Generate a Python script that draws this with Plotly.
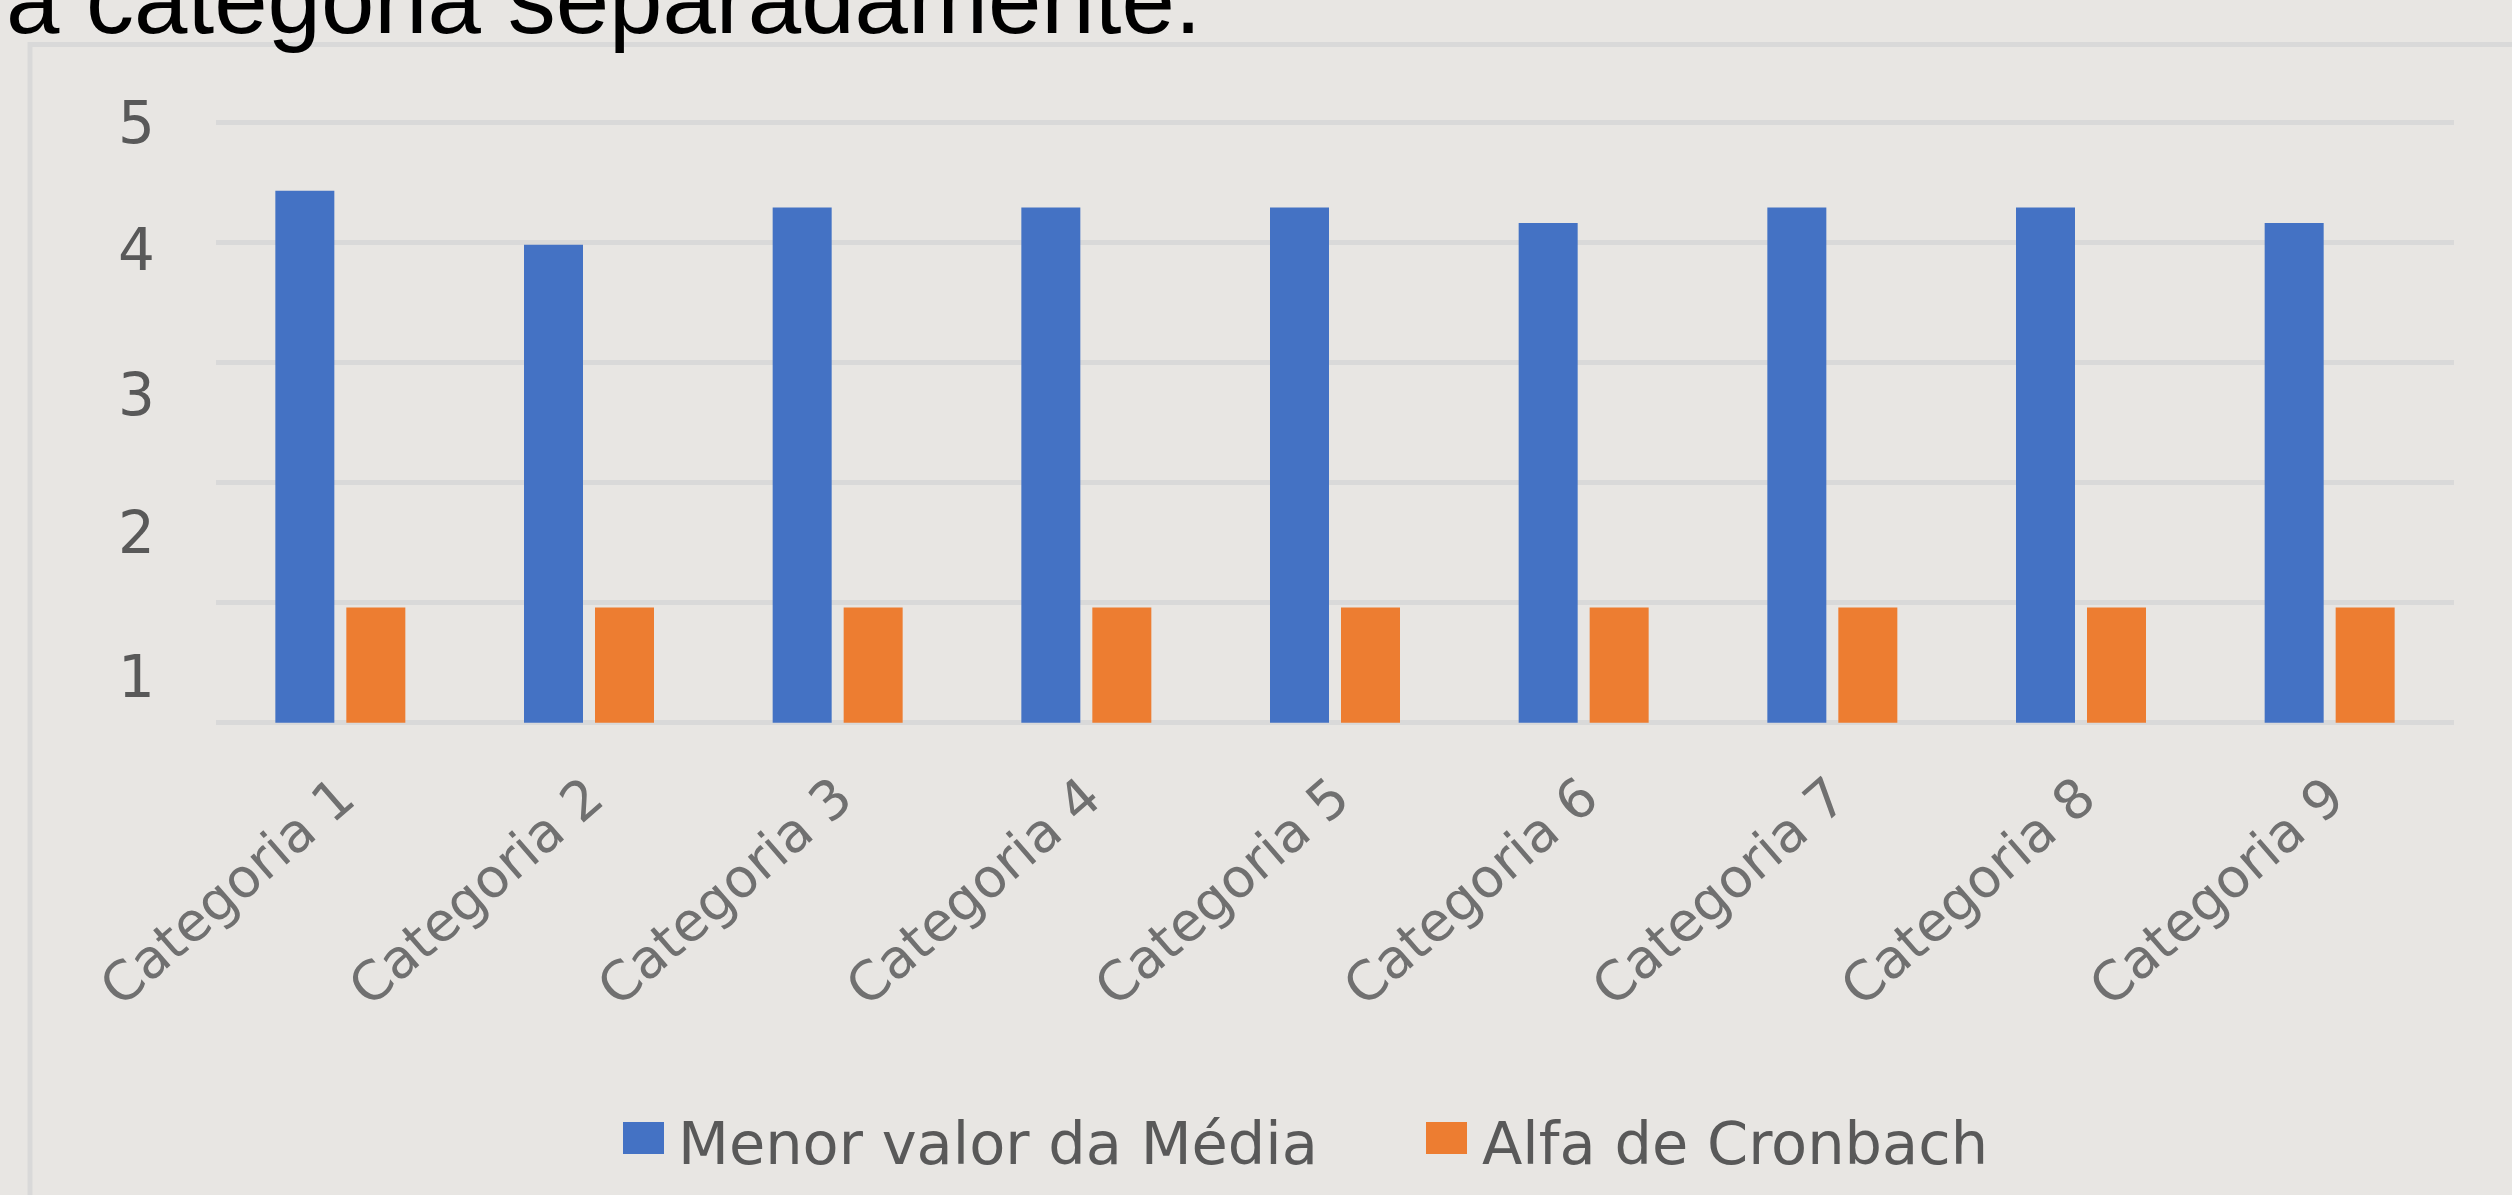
import plotly.graph_objects as go

# ---- data ----
categories = ["Categoria 1", "Categoria 2", "Categoria 3", "Categoria 4", "Categoria 5",
              "Categoria 6", "Categoria 7", "Categoria 8", "Categoria 9"]
menor_valor_media = [4.43, 3.98, 4.29, 4.29, 4.29, 4.16, 4.29, 4.29, 4.16]
alfa_cronbach = [0.96, 0.96, 0.96, 0.96, 0.96, 0.96, 0.96, 0.96, 0.96]
series_names = ["Menor valor da Média", "Alfa de Cronbach"]
y_tick_text = ["5", "4", "3", "2", "1"]
grid_vals = [0, 1, 2, 3, 4, 5]
title_text = "a categoria separadamente."

# ---- layout constants (pixels) ----
W, H = 2512, 1195
L, R, T, B = 216, 58, 121, 471
PW, PH = W - L - R, H - T - B
y_tick_pos = [5.0, 3.94, 2.73, 1.58, 0.38]   # where the labels sit in the reference

BG = "#e8e6e3"
GRID = "#d9d9d9"
TXT = "#595959"
XTXT = "#707070"
BLUE = "#4472c4"
ORANGE = "#ed7d31"
FONT = "DejaVu Sans"


def xp(px):
    return (px - L) / PW


def yp(py):
    return (H - B - py) / PH


fig = go.Figure()
fig.add_trace(go.Bar(x=categories, y=menor_valor_media, name=series_names[0],
                     marker=dict(color=BLUE, line=dict(width=0)), showlegend=False))
fig.add_trace(go.Bar(x=categories, y=alfa_cronbach, name=series_names[1],
                     marker=dict(color=ORANGE, line=dict(width=0)), showlegend=False))

shapes = [
    # chart frame (extends beyond the picture on the right and bottom)
    dict(type="rect", xref="paper", yref="paper", x0=xp(30), x1=xp(2600),
         y0=yp(1300), y1=yp(44.5), line=dict(color=GRID, width=5), fillcolor="rgba(0,0,0,0)",
         layer="below"),
    # legend swatches
    dict(type="rect", xref="paper", yref="paper", x0=xp(623), x1=xp(664),
         y0=yp(1154), y1=yp(1122), line=dict(width=0), fillcolor=BLUE),
    dict(type="rect", xref="paper", yref="paper", x0=xp(1426), x1=xp(1467),
         y0=yp(1154), y1=yp(1122), line=dict(width=0), fillcolor=ORANGE),
]

annotations = [
    dict(text=title_text, xref="paper", yref="paper", x=xp(4), y=yp(0),
         xanchor="left", yanchor="middle", showarrow=False,
         font=dict(family="Liberation Sans", size=96, color="#000000")),
    dict(text=series_names[0], xref="paper", yref="paper", x=xp(676), y=yp(1143),
         xanchor="left", yanchor="middle", showarrow=False,
         font=dict(family=FONT, size=59, color=TXT)),
    dict(text=series_names[1], xref="paper", yref="paper", x=xp(1480), y=yp(1143),
         xanchor="left", yanchor="middle", showarrow=False,
         font=dict(family=FONT, size=59, color=TXT)),
]

fig.update_layout(
    width=W, height=H,
    margin=dict(l=L, r=R, t=T, b=B, pad=0),
    paper_bgcolor=BG, plot_bgcolor=BG,
    barmode="group", bargap=0.429, bargroupgap=0.169,
    showlegend=False,
    shapes=shapes, annotations=annotations,
    xaxis=dict(showgrid=False, zeroline=False, showline=False, ticks="",
               tickangle=-41, tickfont=dict(family=FONT, size=54, color=XTXT),
               ticklabelstandoff=30),
    yaxis=dict(range=[-0.01, 5.01], tickmode="array", tickvals=y_tick_pos, ticktext=y_tick_text,
               showgrid=False, zeroline=False, showline=False, ticks="",
               tickfont=dict(family=FONT, size=58, color=TXT), ticklabelstandoff=60,
               minor=dict(tickmode="array", tickvals=grid_vals, showgrid=True,
                          gridcolor=GRID, gridwidth=4.5, ticks="")),
)

fig.write_html(
    "out.html",
    config={"displayModeBar": False},
    post_script="document.body.style.margin='0';document.body.style.background='" + BG + "';",
)
